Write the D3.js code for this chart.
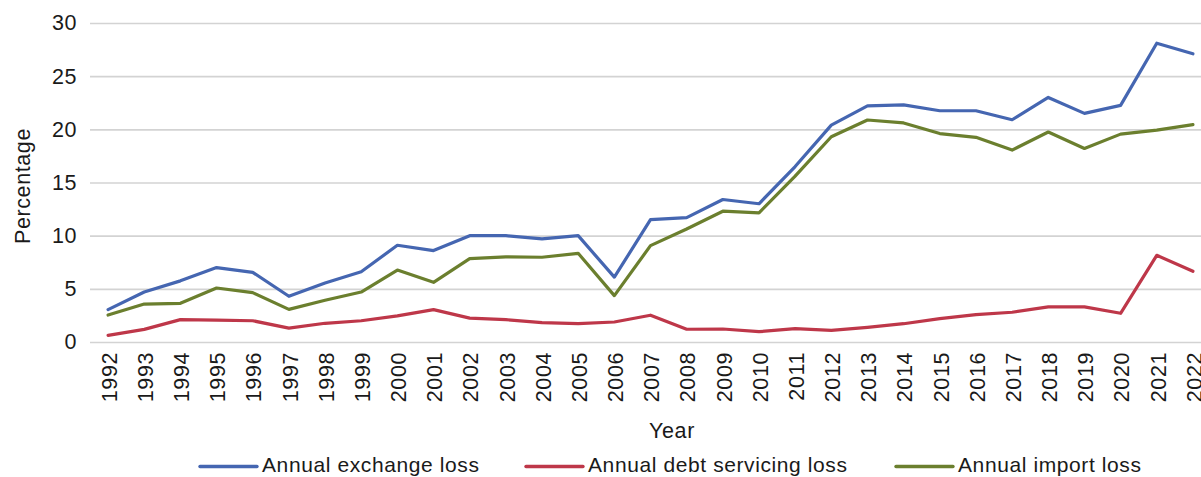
<!DOCTYPE html>
<html>
<head>
<meta charset="utf-8">
<script src="https://cdn.jsdelivr.net/npm/d3@7"></script>
<style>
  html, body { margin: 0; padding: 0; background: #fff; }
  svg { display: block; }
  text { font-family: "Liberation Sans", Arial, Helvetica, sans-serif; fill: #1a1a1a; letter-spacing: 0.6px; }
</style>
</head>
<body>
<svg id="chart" width="1201" height="477"></svg>
<script>
// Loss as a percentage, by year
const years = d3.range(1992, 2023).map(String);
const exchangeLoss = [3.05, 4.7, 5.75, 7.0, 6.55, 4.3, 5.55, 6.6, 9.1, 8.6, 10.0, 10.0, 9.7, 10.0, 6.1, 11.5, 11.7, 13.4, 13.0, 16.5, 20.4, 22.2, 22.3, 21.75, 21.75, 20.9, 23.0, 21.5, 22.25, 28.1, 27.1];
const debtServicingLoss = [0.63, 1.19, 2.1, 2.05, 2.0, 1.3, 1.76, 2.0, 2.45, 3.05, 2.25, 2.1, 1.82, 1.72, 1.88, 2.52, 1.2, 1.22, 0.97, 1.25, 1.1, 1.38, 1.72, 2.2, 2.58, 2.8, 3.3, 3.3, 2.7, 8.15, 6.65];
const importLoss = [2.54, 3.57, 3.64, 5.08, 4.64, 3.07, 3.92, 4.7, 6.77, 5.61, 7.84, 8.0, 7.97, 8.34, 4.36, 9.06, 10.63, 12.3, 12.15, 15.6, 19.3, 20.88, 20.6, 19.6, 19.25, 18.05, 19.75, 18.2, 19.55, 19.93, 20.45];
const yTicks = [0, 5, 10, 15, 20, 25, 30];
const seriesNames = ["Annual exchange loss", "Annual debt servicing loss", "Annual import loss"];
const seriesColors = ["#4566B1", "#BE3749", "#6B7F2E"];

const series = [exchangeLoss, debtServicingLoss, importLoss].map((values, i) => ({
  name: seriesNames[i], color: seriesColors[i], values
}));

const svg = d3.select("#chart");
const plot = { left: 90, right: 1211, top: 23, bottom: 342 };

const x = d3.scaleBand().domain(years).range([plot.left, plot.right]).padding(0);
const cx = d => x(d) + x.bandwidth() / 2;
const y = d3.scaleLinear().domain([0, 30]).range([plot.bottom, plot.top]);

// Horizontal gridlines and y tick labels
const yAxis = svg.append("g")
  .attr("transform", `translate(${plot.left},0)`)
  .call(d3.axisLeft(y).tickValues(yTicks).tickSize(-(plot.right - plot.left)).tickPadding(13));
yAxis.select(".domain").remove();
yAxis.selectAll(".tick line").attr("stroke", "#d3d3d3").attr("stroke-width", 1.6);
yAxis.selectAll(".tick text")
  .attr("font-size", "21.5px")
  .attr("fill", "#1a1a1a")
  .style("font-family", "'Liberation Sans', Arial, sans-serif");

// Rotated year labels
const xAxis = svg.append("g")
  .attr("transform", `translate(0,${plot.bottom})`)
  .call(d3.axisBottom(x).tickSize(0).tickPadding(0));
xAxis.select(".domain").remove();
xAxis.selectAll(".tick text")
  .attr("font-size", "21.5px")
  .attr("fill", "#1a1a1a")
  .style("font-family", "'Liberation Sans', Arial, sans-serif")
  .attr("text-anchor", "end")
  .attr("transform", "translate(1,10) rotate(-90)")
  .attr("x", 0)
  .attr("y", 0)
  .attr("dy", "0.36em");

// Series lines
const line = d3.line()
  .x((d, i) => cx(years[i]))
  .y(d => y(d));

svg.append("g")
  .selectAll("path")
  .data(series)
  .join("path")
  .attr("fill", "none")
  .attr("stroke", d => d.color)
  .attr("stroke-width", 3.2)
  .attr("stroke-linejoin", "round")
  .attr("stroke-linecap", "round")
  .attr("d", d => line(d.values));

// Axis titles
svg.append("text")
  .attr("x", 672)
  .attr("y", 438)
  .attr("text-anchor", "middle")
  .attr("font-size", "21.5px")
  .text("Year");

svg.append("text")
  .attr("transform", "translate(30,186) rotate(-90)")
  .attr("text-anchor", "middle")
  .attr("font-size", "21.5px")
  .text("Percentage");

// Legend
const legendX = [200, 526, 896];
const legend = svg.append("g")
  .selectAll("g")
  .data(series)
  .join("g")
  .attr("transform", (d, i) => `translate(${legendX[i]},466.5)`);
legend.append("line")
  .attr("x1", 0).attr("x2", 57)
  .attr("stroke", d => d.color)
  .attr("stroke-width", 3.4)
  .attr("stroke-linecap", "round");
legend.append("text")
  .attr("x", 62)
  .attr("y", 5.3)
  .attr("font-size", "21px")
  .attr("letter-spacing", "0.75px")
  .text(d => d.name);
</script>
</body>
</html>
